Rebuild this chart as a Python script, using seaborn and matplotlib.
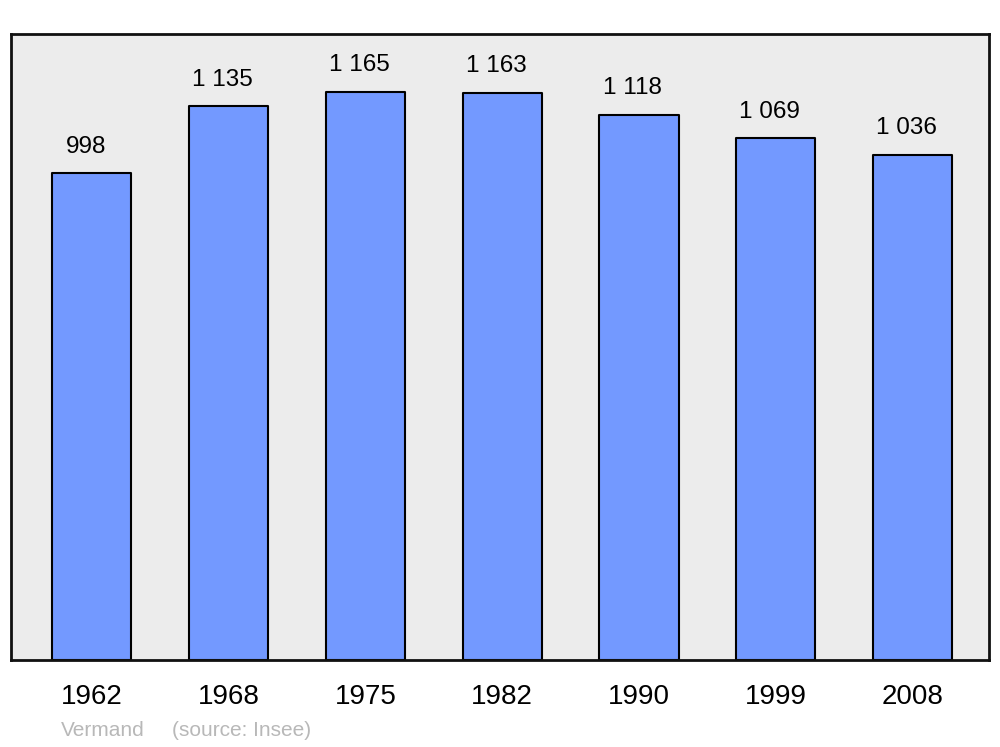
import numpy as np
import matplotlib
matplotlib.use("Agg")
import matplotlib.pyplot as plt
import pandas as pd
import seaborn as sns

years = ["1962", "1968", "1975", "1982", "1990", "1999", "2008"]
population = [998, 1135, 1165, 1163, 1118, 1069, 1036]
value_labels = ["998", "1 135", "1 165", "1 163", "1 118", "1 069", "1 036"]

df = pd.DataFrame({"year": years, "pop": population})

sns.set_style("white")
plt.rcParams["font.family"] = ["Liberation Sans", "DejaVu Sans"]

fig = plt.figure(figsize=(10, 7.47), dpi=100)
ax = fig.add_axes([0.011, 1 - 660 / 747, 0.978, (660 - 34) / 747])

sns.barplot(data=df, x="year", y="pop", color="#7399ff", saturation=1,
            width=0.578, edgecolor="black", linewidth=1.5, ax=ax)
for p in ax.patches:
    p.set_joinstyle("round")

ax.set_facecolor("#ececec")
ax.set_xlim(-0.592, 6.559)
ax.set_ylim(0, 1283)
for s in ax.spines.values():
    s.set_linewidth(2)
    s.set_color("#111111")
    s.set_joinstyle("round")

# value labels above each bar (slightly left of centre, as in the original)
for i, (v, lab) in enumerate(zip(population, value_labels)):
    ax.annotate(lab, (i, v), xytext=(-4.5, 19), textcoords="offset points",
                ha="center", va="center", fontsize=17.5, color="black")

ax.set_yticks([])
ax.tick_params(axis="x", length=0, labelsize=20, pad=17, labelcolor="black")
ax.set_xlabel("")
ax.set_ylabel("")

fig.text(0.061, 1 - 730 / 747, "Vermand", color="#b8b8b8",
         fontsize=15, va="center", ha="left")
fig.text(0.172, 1 - 730 / 747, "(source: Insee)", color="#b8b8b8",
         fontsize=15, va="center", ha="left")

fig.savefig("out.png", dpi=100)
